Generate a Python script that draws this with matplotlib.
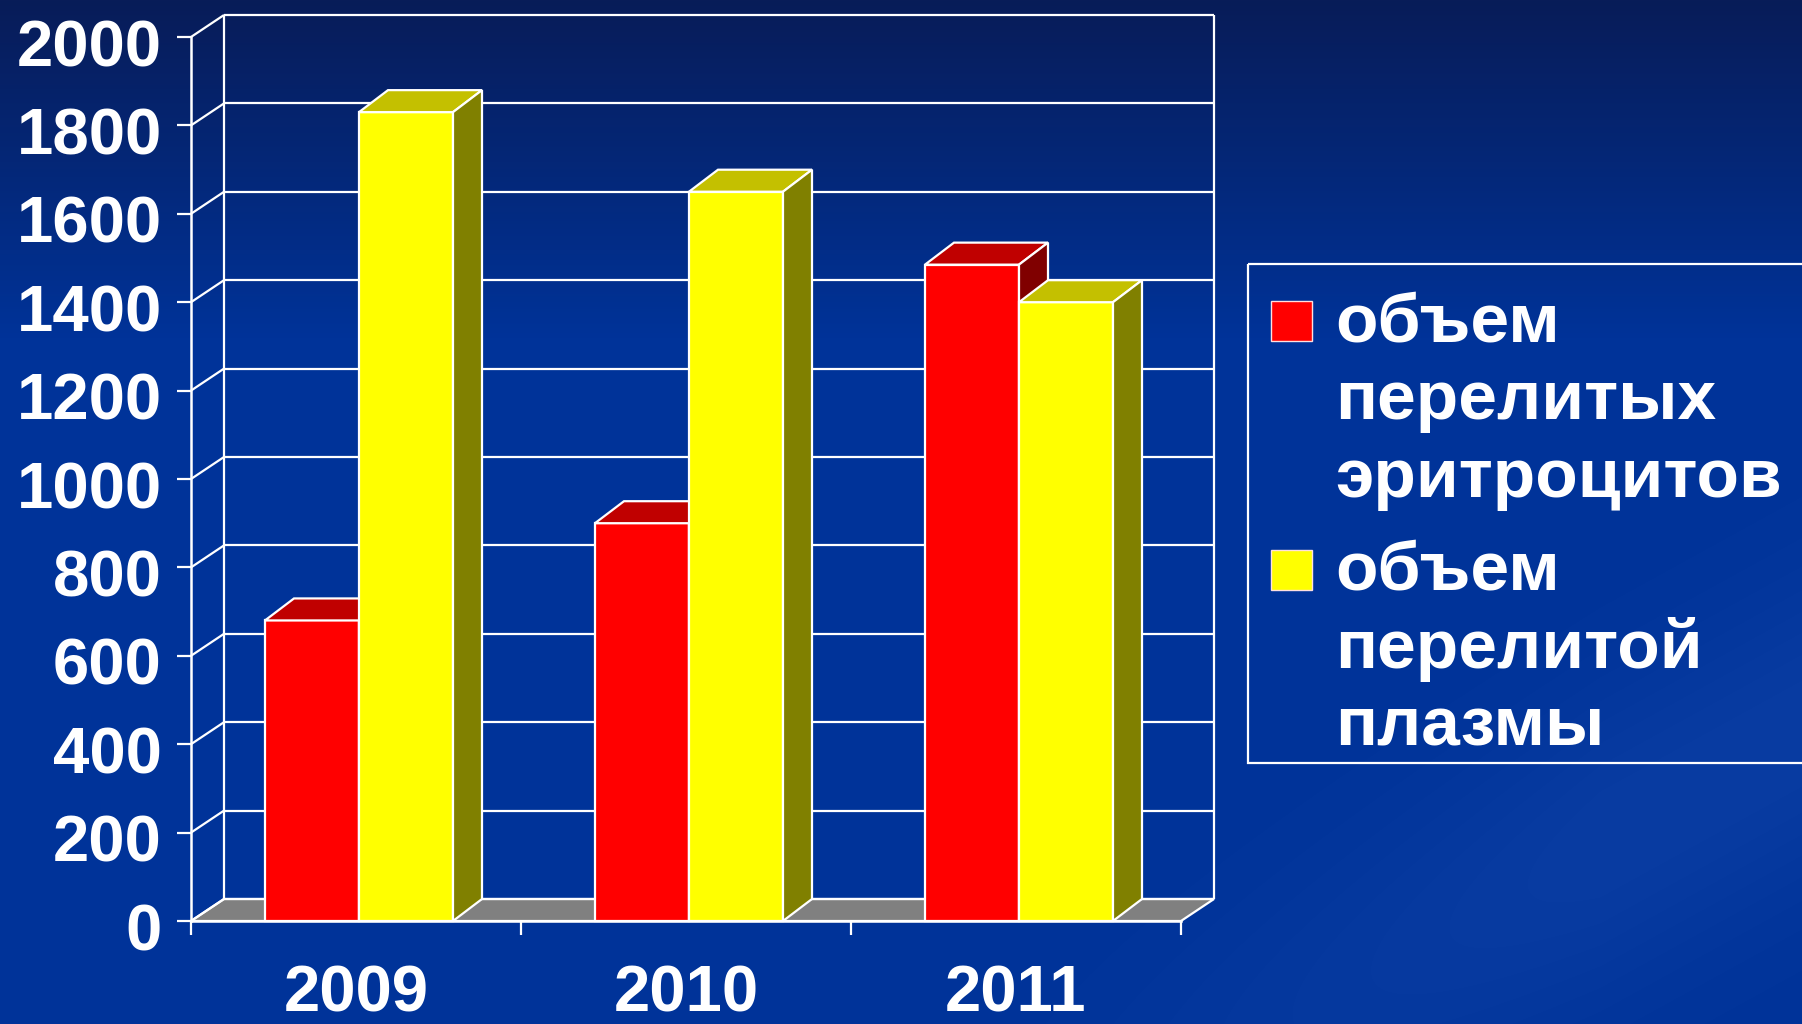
import numpy as np
import matplotlib
matplotlib.use("Agg")
import matplotlib.pyplot as plt
import matplotlib.transforms as mtransforms
from matplotlib.patches import Polygon, Rectangle

# ---------------- data ----------------
years = ["2009", "2010", "2011"]
rbc_volume = [680, 900, 1485]        # объем перелитых эритроцитов
plasma_volume = [1830, 1650, 1400]   # объем перелитой плазмы
series_labels = ["объем\nперелитых\nэритроцитов", "объем\nперелитой\nплазмы"]
y_ticks = list(range(0, 2001, 200))

# ---------------- style ----------------
FONT = ["Liberation Sans", "DejaVu Sans"]
plt.rcParams["font.family"] = FONT
plt.rcParams["font.weight"] = "bold"

front_colors = ["#FF0000", "#FFFF00"]
top_colors = ["#C00000", "#C4C000"]
side_colors = ["#800000", "#808000"]
FLOOR = "#808080"
W_PX, H_PX = 1802, 1024

fig = plt.figure(figsize=(W_PX / 100, H_PX / 100), dpi=100)

# background gradient (pixel coordinates)
bg = fig.add_axes([0, 0, 1, 1], zorder=0)
bg.set_xlim(0, W_PX)
bg.set_ylim(H_PX, 0)
bg.axis("off")
yy, xx = np.mgrid[0:H_PX, 0:W_PX]
t = np.clip(yy / (0.33 * H_PX), 0, 1)
top_c = np.array([8, 28, 88]) / 255
mid_c = np.array([0, 51, 153]) / 255
img = top_c[None, None, :] * (1 - t[..., None]) + mid_c[None, None, :] * t[..., None]
# faint diagonal sheen at lower right
d = ((xx - 1000) * 0.55 - (H_PX - yy))
band = np.exp(-((d - 150) / 160.0) ** 2) * np.clip((xx - 900) / 700, 0, 1) * 0.035
img = np.clip(img + band[..., None], 0, 1)
bg.imshow(img, extent=[0, W_PX, H_PX, 0], aspect="auto", interpolation="bilinear")

# main axes = front plane of the 3D chart
x0_px, x1_px, yb_px, yt_px = 191, 1181, 921, 37
ax = fig.add_axes([x0_px / W_PX, (H_PX - yb_px) / H_PX,
                   (x1_px - x0_px) / W_PX, (yb_px - yt_px) / H_PX], zorder=1)
ax.set_facecolor("none")
n = len(years)
ax.set_xlim(0, n)
ax.set_ylim(0, 2000)

px_x = n / (x1_px - x0_px)
px_y = 2000 / (yb_px - yt_px)
DX, DY = 33 * px_x, 22 * px_y       # wall depth
BDX, BDY = 29 * px_x, 22 * px_y     # bar depth

wall_kw = dict(color="white", lw=1.6, clip_on=False, zorder=1.5, solid_capstyle="butt")
# floor
ax.add_patch(Polygon([(0, 0), (n, 0), (n + DX, DY), (DX, DY)], closed=True,
                     facecolor=FLOOR, edgecolor="white", lw=1.6, clip_on=False, zorder=1))
# gridlines on back wall and left wall
for v in y_ticks:
    ax.plot([DX, n + DX], [v + DY, v + DY], **wall_kw)
    ax.plot([0, DX], [v, v + DY], **wall_kw)
ax.plot([DX, DX], [DY, 2000 + DY], **wall_kw)
ax.plot([n + DX, n + DX], [DY, 2000 + DY], **wall_kw)

# bars
bar_w = 94 / 330
offset = 74 / 330
for s, vals in enumerate([rbc_volume, plasma_volume]):
    lefts = [i + offset + s * bar_w for i in range(n)]
    z = 3 + s
    ax.bar(lefts, vals, width=bar_w, align="edge", color=front_colors[s],
           edgecolor="white", linewidth=1.6, zorder=z, clip_on=False)
    for xl, v in zip(lefts, vals):
        xr = xl + bar_w
        ax.add_patch(Polygon([(xl, v), (xr, v), (xr + BDX, v + BDY), (xl + BDX, v + BDY)],
                             closed=True, facecolor=top_colors[s], edgecolor="white",
                             lw=1.6, zorder=z, clip_on=False))
        ax.add_patch(Polygon([(xr, 0), (xr + BDX, BDY), (xr + BDX, v + BDY), (xr, v)],
                             closed=True, facecolor=side_colors[s], edgecolor="white",
                             lw=1.6, zorder=z, clip_on=False))

# axes / ticks
for sp in ["top", "right"]:
    ax.spines[sp].set_visible(False)
for sp in ["left", "bottom"]:
    ax.spines[sp].set_color("white")
    ax.spines[sp].set_linewidth(1.8)
    ax.spines[sp].set_zorder(6)
ax.set_yticks(y_ticks)
ax.set_yticklabels([str(v) for v in y_ticks])
ax.tick_params(axis="y", direction="out", length=10, width=1.6, color="white",
               labelcolor="white", labelsize=47, pad=11)
ax.set_xticks([i + 0.5 for i in range(n)])
ax.set_xticklabels(years)
ax.set_xticks(list(range(n + 1)), minor=True)
ax.tick_params(axis="x", which="major", length=0, labelcolor="white", labelsize=47, pad=31)
ax.tick_params(axis="x", which="minor", direction="out", length=10, width=1.6, color="white")
shift = mtransforms.ScaledTranslation(0, -4 / 72, fig.dpi_scale_trans)
for lab in ax.get_yticklabels():
    lab.set_fontweight("bold")
    lab.set_transform(lab.get_transform() + shift)
for lab in ax.get_xticklabels():
    lab.set_fontweight("bold")

# legend (drawn in pixel coordinates on the overlay)
lg = fig.add_axes([0, 0, 1, 1], zorder=2)
lg.set_xlim(0, W_PX)
lg.set_ylim(H_PX, 0)
lg.axis("off")
lg.add_patch(Rectangle((1248, 264), 600, 499, facecolor="none", edgecolor="white", lw=1.6))
entry_tops = [341, 590]
line_gap = 78
for s, (label, base) in enumerate(zip(series_labels, entry_tops)):
    lg.add_patch(Rectangle((1271, base - 40), 41, 40, facecolor=front_colors[s],
                           edgecolor="#FFE0E0", lw=1.0))
    for k, line in enumerate(label.split("\n")):
        lg.text(1335, base + k * line_gap, line, color="white", fontsize=50,
                fontweight="bold", va="baseline", ha="left", family=FONT)

fig.savefig("out.png", dpi=100)
